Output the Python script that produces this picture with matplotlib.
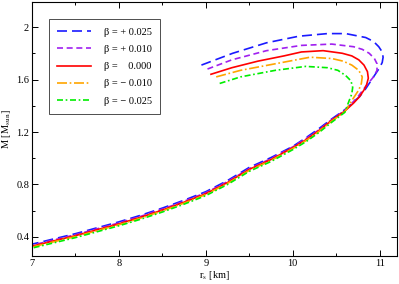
import numpy as np
import matplotlib.pyplot as plt
from matplotlib.ticker import MultipleLocator

plt.rcParams['font.family'] = ['Liberation Serif', 'DejaVu Serif']
plt.rcParams['mathtext.fontset'] = 'stix'

###############################################################################
# Data: upper (unstable) branch per curve, then the
# common lower branch radii with per-curve masses
###############################################################################
labels = ['β = + 0.025', 'β = + 0.010', 'β =    0.000', 'β = − 0.010', 'β = − 0.025']
colors = ['#1a1aff', '#a020f0', '#ff0000', '#ffa500', '#00ee00']

r_up_blue = [8.95, 9.31, 9.70, 10.07, 10.40, 10.61, 10.84, 10.93, 10.99, 11.03, 11.04,
             11.03, 11.00, 10.95, 10.90, 10.84, 10.77]
m_up_blue = [1.71, 1.80, 1.88, 1.93, 1.95, 1.95, 1.92, 1.89, 1.85, 1.81, 1.77,
             1.73, 1.69, 1.64, 1.59, 1.53, 1.47]

r_up_purple = [9.02, 9.30, 9.70, 10.10, 10.45, 10.70, 10.80, 10.88, 10.94, 10.97, 10.97,
               10.93, 10.88, 10.82, 10.74]
m_up_purple = [1.68, 1.75, 1.82, 1.86, 1.87, 1.85, 1.83, 1.80, 1.76, 1.72, 1.67,
               1.62, 1.58, 1.53, 1.46]

r_up_red = [9.06, 9.30, 9.60, 9.90, 10.10, 10.35, 10.57, 10.68, 10.76, 10.82, 10.86,
            10.87, 10.85, 10.82, 10.77, 10.70]
m_up_red = [1.64, 1.69, 1.74, 1.78, 1.81, 1.82, 1.80, 1.78, 1.75, 1.71, 1.66,
            1.61, 1.56, 1.52, 1.47, 1.42]

r_up_orange = [9.12, 9.40, 9.80, 10.20, 10.45, 10.58, 10.68, 10.76, 10.80, 10.79, 10.76, 10.70]
m_up_orange = [1.62, 1.67, 1.72, 1.77, 1.76, 1.74, 1.71, 1.67, 1.62, 1.57, 1.52, 1.46]

r_up_green = [9.16, 9.40, 9.80, 10.15, 10.40, 10.52, 10.61, 10.67, 10.69, 10.68, 10.65]
m_up_green = [1.57, 1.62, 1.67, 1.70, 1.69, 1.67, 1.63, 1.59, 1.54, 1.49, 1.44]

r_low = [10.6, 10.45, 10.3, 10.15, 10.0, 9.75, 9.5, 9.25, 9.0, 8.75, 8.5, 8.25, 8.0, 7.75, 7.5, 7.25, 7.0]
m_low_blue = [1.37, 1.30, 1.225, 1.155, 1.09, 1.005, 0.93, 0.83, 0.745, 0.68, 0.62, 0.565, 0.515, 0.47, 0.425, 0.385, 0.345]
m_low_purple = [1.365, 1.295, 1.215, 1.148, 1.086, 0.997, 0.92, 0.822, 0.737, 0.672, 0.612, 0.557, 0.507, 0.462, 0.417, 0.377, 0.337]
m_low_red = [1.36, 1.29, 1.21, 1.14, 1.08, 0.99, 0.915, 0.815, 0.73, 0.665, 0.605, 0.55, 0.50, 0.455, 0.41, 0.37, 0.33]
m_low_orange = [1.355, 1.283, 1.203, 1.133, 1.073, 0.983, 0.907, 0.808, 0.723, 0.658, 0.598, 0.543, 0.493, 0.448, 0.403, 0.363, 0.323]
m_low_green = [1.35, 1.275, 1.195, 1.125, 1.065, 0.975, 0.90, 0.80, 0.715, 0.65, 0.59, 0.535, 0.485, 0.44, 0.395, 0.355, 0.315]

x_ticks = [7, 8, 9, 10, 11]
y_ticks = [0.4, 0.8, 1.2, 1.6, 2.0]
y_ticklabels = ['0.4', '0.8', '1.2', '1.6', '2']

r_up = [r_up_blue, r_up_purple, r_up_red, r_up_orange, r_up_green]
m_up = [m_up_blue, m_up_purple, m_up_red, m_up_orange, m_up_green]
m_low = [m_low_blue, m_low_purple, m_low_red, m_low_orange, m_low_green]
dashes = [(6, 3), (3.6, 2.2), (), (6, 1.6, 1, 1.6), (3.6, 1.6, 1, 1.6)]

###############################################################################
fig = plt.figure(figsize=(3.99, 2.84), dpi=100)
ax = fig.add_axes([0.080, 0.0986, 0.915, 0.894])

for i in range(5):
    r = np.concatenate([r_up[i], r_low])
    m = np.concatenate([m_up[i], m_low[i]])
    line, = ax.plot(r, m, color=colors[i], lw=1.2, label=labels[i])
    if dashes[i]:
        line.set_dashes(dashes[i])

ax.set_xlim(7, 11.2)
ax.set_ylim(0.255, 2.19)
ax.set_xticks(x_ticks)
ax.set_yticks(y_ticks)
ax.set_yticklabels(y_ticklabels)
ax.xaxis.set_minor_locator(MultipleLocator(0.5))
ax.yaxis.set_minor_locator(MultipleLocator(0.2))
ax.tick_params(which='both', direction='in', top=True, right=True,
               labelsize=7.5, width=0.7, pad=2)
ax.tick_params(which='major', length=4)
ax.tick_params(which='minor', length=2.5)
for s in ax.spines.values():
    s.set_linewidth(0.8)

ax.set_xlabel('r$_{\\rm s}$ [km]', fontsize=7.5, labelpad=1)
ax.set_ylabel('M [M$_{\\rm sun}$]', fontsize=7.5, labelpad=2)

leg = ax.legend(loc='upper left', bbox_to_anchor=(0.046, 0.933), borderaxespad=0,
                fontsize=7.5, handlelength=3.3, labelspacing=0.76, fancybox=False,
                edgecolor='0.3', framealpha=1, borderpad=0.8, handletextpad=1.2)
leg.get_frame().set_linewidth(0.7)

fig.savefig('out.png', dpi=100)
